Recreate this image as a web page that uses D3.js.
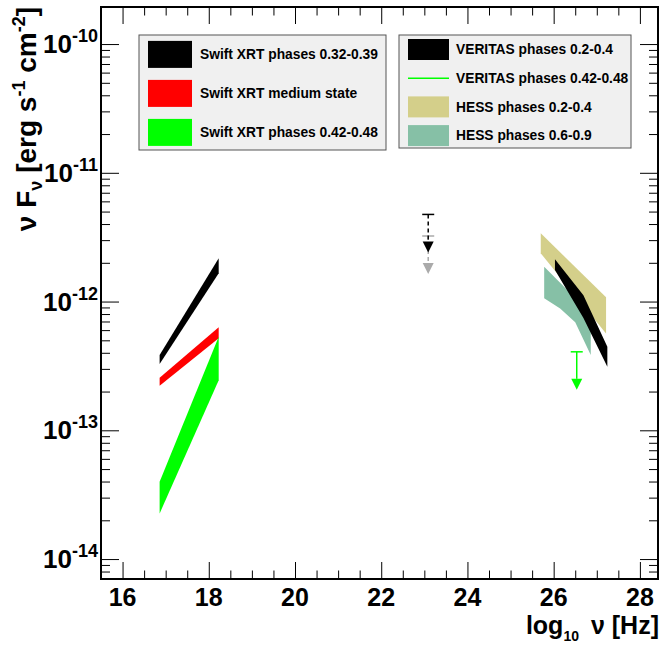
<!DOCTYPE html>
<html>
<head>
<meta charset="utf-8">
<script src="https://cdn.jsdelivr.net/npm/d3@7"></script>
<style>
  body { margin: 0; background: #fff; }
  text { font-family: "Liberation Sans", Arial, sans-serif; font-weight: bold; }
</style>
</head>
<body>
<div id="sed"></div>
<script>
// x -> log10 nu [Hz], y -> nu F_nu [erg s^-1 cm^-2]

// Swift XRT bowties (0.3 - 7 keV)
var xrtNu = [16.86, 18.23];
var xrtHighUp = [3.84e-13, 2.17e-12];
var xrtHighLo = [3.27e-13, 1.66e-12];
var xrtMedUp = [2.56e-13, 6.31e-13];
var xrtMedLo = [2.22e-13, 5.18e-13];
var xrtLowUp = [3.98e-14, 5.33e-13];
var xrtLowLo = [2.26e-14, 2.45e-13];

// HESS phases 0.2-0.4
var hessANu = [25.70, 27.215];
var hessAUp = [3.39e-12, 1.08e-12];
var hessALo = [2.37e-12, 5.66e-13];

// HESS phases 0.6-0.9
var hessBNu = [25.78, 26.15, 26.5, 26.86];
var hessBUp = [1.86e-12, 1.40e-12, 1.06e-12, 8.09e-13];
var hessBLo = [1.06e-12, 8.85e-13, 6.92e-13, 3.85e-13];

// VERITAS phases 0.2-0.4
var veritasNu = [26.03, 26.69, 27.245];
var veritasUp = [2.13e-12, 1.12e-12, 4.46e-13];
var veritasLo = [1.76e-12, 7.45e-13, 3.12e-13];

// upper limits
var ulNu = [23.09, 23.09, 26.535];
var ulFlux = [3.23e-12, 4.75e-12, 4.07e-13];
var ulColors = ["#aaaaaa", "#000000", "#00ff00"];
var ulDashed = [true, true, false];

// legends
var legend1Labels = ["Swift XRT phases 0.32-0.39", "Swift XRT medium state", "Swift XRT phases 0.42-0.48"];
var legend1Colors = ["#000000", "#ff0000", "#00ff00"];
var legend2Labels = ["VERITAS phases 0.2-0.4", "VERITAS phases 0.42-0.48", "HESS phases 0.2-0.4", "HESS phases 0.6-0.9"];
var legend2Colors = ["#000000", "#00ff00", "#d4cf8a", "#86c0a6"];
var legend2Kind = ["box", "line", "box", "box"];

// axis ticks
var xMajorTicks = [16, 18, 20, 22, 24, 26, 28];
var yDecades = [-14, -13, -12, -11, -10];

var svgWidth = 662;
var svgHeight = 645;

var margin = { top: 7, right: 4, bottom: 66, left: 101 };
var chartWidth = svgWidth - margin.left - margin.right;
var chartHeight = svgHeight - margin.top - margin.bottom;

var svg = d3.select("#sed")
  .append("svg")
  .attr("width", svgWidth)
  .attr("height", svgHeight);

var chartGroup = svg.append("g")
  .attr("transform", `translate(${margin.left}, ${margin.top})`);

var xScale = d3.scaleLinear().domain([15.5, 28.42]).range([0, chartWidth]);
var yScale = d3.scaleLog().domain([7e-15, 1.94e-10]).range([chartHeight, 0]);

// minor ticks
var xMinor = d3.range(15.5, 28.42, 0.5).filter(v => xMajorTicks.indexOf(v) < 0);
var yMinor = [];
d3.range(-15, -9).forEach(function(e) {
  for (var m = 2; m <= 9; m++) {
    var v = m * Math.pow(10, e);
    if (v >= 7e-15 && v <= 1.94e-10) yMinor.push(v);
  }
});
var yMajor = yDecades.map(e => Math.pow(10, e));

function tickLines(g) {
  g.select(".domain").remove();
  g.selectAll("line").attr("stroke", "#000").attr("stroke-width", 1);
}

// bottom / top ticks (pointing inward)
chartGroup.append("g").attr("transform", `translate(0, ${chartHeight})`)
  .call(d3.axisBottom(xScale).tickValues(xMajorTicks).tickSize(-17).tickFormat(""))
  .call(tickLines);
chartGroup.append("g").attr("transform", `translate(0, ${chartHeight})`)
  .call(d3.axisBottom(xScale).tickValues(xMinor).tickSize(-8.5).tickFormat(""))
  .call(tickLines);
chartGroup.append("g")
  .call(d3.axisTop(xScale).tickValues(xMajorTicks).tickSize(-17).tickFormat(""))
  .call(tickLines);
chartGroup.append("g")
  .call(d3.axisTop(xScale).tickValues(xMinor).tickSize(-8.5).tickFormat(""))
  .call(tickLines);

// left / right ticks
chartGroup.append("g")
  .call(d3.axisLeft(yScale).tickValues(yMajor).tickSize(-18).tickFormat(""))
  .call(tickLines);
chartGroup.append("g")
  .call(d3.axisLeft(yScale).tickValues(yMinor).tickSize(-9).tickFormat(""))
  .call(tickLines);
chartGroup.append("g").attr("transform", `translate(${chartWidth}, 0)`)
  .call(d3.axisRight(yScale).tickValues(yMajor).tickSize(-18).tickFormat(""))
  .call(tickLines);
chartGroup.append("g").attr("transform", `translate(${chartWidth}, 0)`)
  .call(d3.axisRight(yScale).tickValues(yMinor).tickSize(-9).tickFormat(""))
  .call(tickLines);

// tick labels
chartGroup.selectAll(".xlab")
  .data(xMajorTicks)
  .enter()
  .append("text")
  .attr("x", d => xScale(d))
  .attr("y", chartHeight + 27)
  .attr("text-anchor", "middle")
  .attr("font-size", 25)
  .text(d => d);

var yLabs = chartGroup.selectAll(".ylab")
  .data(yDecades)
  .enter()
  .append("text")
  .attr("x", -3)
  .attr("y", d => yScale(Math.pow(10, d)) + 9)
  .attr("text-anchor", "end")
  .attr("font-size", 26);
yLabs.append("tspan").text("10");
yLabs.append("tspan").attr("dy", -11).attr("font-size", 18).text(d => d);

// bowties
var area = d3.area()
  .x(d => xScale(d.nu))
  .y0(d => yScale(d.lo))
  .y1(d => yScale(d.up));

function band(nu, up, lo) {
  return nu.map((v, i) => ({ nu: v, up: up[i], lo: lo[i] }));
}

var bands = [
  { pts: band(xrtNu, xrtHighUp, xrtHighLo), color: "#000000" },
  { pts: band(xrtNu, xrtMedUp, xrtMedLo), color: "#ff0000" },
  { pts: band(xrtNu, xrtLowUp, xrtLowLo), color: "#00ff00" },
  { pts: band(hessANu, hessAUp, hessALo), color: "#d4cf8a" },
  { pts: band(hessBNu, hessBUp, hessBLo), color: "#86c0a6" },
  { pts: band(veritasNu, veritasUp, veritasLo), color: "#000000" }
];

chartGroup.selectAll(".band")
  .data(bands)
  .enter()
  .append("path")
  .attr("d", d => area(d.pts))
  .attr("fill", d => d.color)
  .attr("stroke", "none");

// upper limit arrows
var arrowLen = 38, headLen = 11, headHalf = 5.5, capHalf = 6;
ulNu.forEach(function(nu, i) {
  var cx = xScale(nu), cy = yScale(ulFlux[i]);
  var g = chartGroup.append("g");
  g.append("line")
    .attr("x1", cx - capHalf).attr("x2", cx + capHalf)
    .attr("y1", cy).attr("y2", cy)
    .attr("stroke", ulColors[i]).attr("stroke-width", 1.5);
  g.append("line")
    .attr("x1", cx).attr("x2", cx)
    .attr("y1", cy).attr("y2", cy + arrowLen - headLen)
    .attr("stroke", ulColors[i]).attr("stroke-width", 1.5)
    .attr("stroke-dasharray", ulDashed[i] ? "4,3" : null);
  g.append("path")
    .attr("d", `M${cx - headHalf},${cy + arrowLen - headLen}L${cx + headHalf},${cy + arrowLen - headLen}L${cx},${cy + arrowLen}Z`)
    .attr("fill", ulColors[i]);
});

// frame
chartGroup.append("rect")
  .attr("width", chartWidth)
  .attr("height", chartHeight)
  .attr("fill", "none")
  .attr("stroke", "#000")
  .attr("stroke-width", 2);

// legend 1
var leg1 = svg.append("g");
leg1.append("rect")
  .attr("x", 139).attr("y", 35).attr("width", 247).attr("height", 115)
  .attr("fill", "#f0f0f0").attr("stroke", "#555").attr("stroke-width", 1);
legend1Labels.forEach(function(lab, i) {
  var cy = 54.4 + i * 39;
  leg1.append("rect")
    .attr("x", 148).attr("y", cy - 13.5).attr("width", 44).attr("height", 27)
    .attr("fill", legend1Colors[i]);
  leg1.append("text")
    .attr("x", 200).attr("y", cy + 4.8)
    .attr("font-size", 13.8)
    .text(lab);
});

// legend 2
var leg2 = svg.append("g");
leg2.append("rect")
  .attr("x", 399).attr("y", 35).attr("width", 232).attr("height", 113)
  .attr("fill", "#f0f0f0").attr("stroke", "#555").attr("stroke-width", 1);
legend2Labels.forEach(function(lab, i) {
  var cy = 49.5 + i * 28.7;
  if (legend2Kind[i] === "line") {
    leg2.append("line")
      .attr("x1", 408).attr("x2", 449).attr("y1", cy).attr("y2", cy)
      .attr("stroke", legend2Colors[i]).attr("stroke-width", 1.5);
  } else {
    leg2.append("rect")
      .attr("x", 408).attr("y", cy - 10.5).attr("width", 41).attr("height", 21)
      .attr("fill", legend2Colors[i]);
  }
  leg2.append("text")
    .attr("x", 456).attr("y", cy + 4.8)
    .attr("font-size", 13.8)
    .text(lab);
});

// axis titles
var xTitle = svg.append("text")
  .attr("x", 659).attr("y", 634)
  .attr("text-anchor", "end")
  .attr("font-size", 25);
xTitle.append("tspan").text("log");
xTitle.append("tspan").attr("dy", 7).attr("font-size", 14).text("10");
xTitle.append("tspan").attr("dy", -7).text("\u2009 \u03bd [Hz]");

var yTitle = svg.append("text")
  .attr("transform", "rotate(-90)")
  .attr("x", -7).attr("y", 36)
  .attr("text-anchor", "end")
  .attr("font-size", 28);
yTitle.append("tspan").text("\u03bd F");
yTitle.append("tspan").attr("dy", 6).attr("font-size", 18).text("\u03bd");
yTitle.append("tspan").attr("dy", -6).text(" [erg s");
yTitle.append("tspan").attr("dy", -11).attr("font-size", 18).text("-1");
yTitle.append("tspan").attr("dy", 11).text(" cm");
yTitle.append("tspan").attr("dy", -11).attr("font-size", 18).text("-2");
yTitle.append("tspan").attr("dy", 11).text("]");
</script>
</body>
</html>
